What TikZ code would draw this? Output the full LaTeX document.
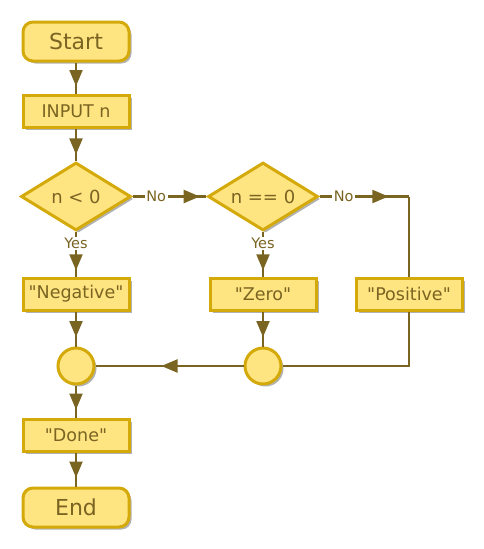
\documentclass[tikz,border=0pt]{standalone}
\usepackage{fontspec}
\setmainfont{DejaVu Sans}[Ligatures=TeXOff]
\usetikzlibrary{shapes.geometric,shadows,decorations.markings}
\definecolor{boxfill}{HTML}{FFE482}
\definecolor{boxline}{HTML}{D4A90A}
\definecolor{ink}{HTML}{7A6422}
\tikzset{
  base/.style={draw=boxline, fill=boxfill, line width=3pt, text=ink,
    drop shadow={shadow xshift=2.5pt, shadow yshift=-2.5pt, opacity=0.3, fill=black}},
  term/.style={base, rounded corners=10pt, minimum width=106pt, minimum height=39pt, inner sep=0pt, font=\fontsize{22}{25}\selectfont},
  proc/.style={base, minimum width=106pt, minimum height=32pt, inner sep=0pt, font=\fontsize{17.5}{20}\selectfont},
  decide/.style={base, diamond, aspect=1.6, minimum width=110pt, minimum height=68pt, inner sep=0pt, font=\fontsize{18}{20}\selectfont},
  joint/.style={base, circle, minimum size=36pt, inner sep=0pt},
  flow/.style={draw=ink, line width=2.8pt},
  arrowat/.style={postaction={decorate, decoration={markings,
    mark=at position #1 with {\fill[ink] (8pt,0) -- (-8pt,6.8pt) -- (-8pt,-6.8pt) -- cycle;}}}},
  lbl/.style={fill=white, text=ink, inner sep=1.5pt, font=\fontsize{14.5}{16}\selectfont}
}
\begin{document}
\begin{tikzpicture}[x=1pt,y=-1pt]
\useasboundingbox (0,0) rectangle (484,549);
\node[term] (start) at (76,41.5) {Start};
\node[proc] (input) at (76,111) {INPUT n};
\node[decide] (d1) at (76,196.5) {n < 0};
\node[proc] (neg) at (76,294) {"Negative"};
\node[joint] (c1) at (76,366) {};
\node[proc] (done) at (76,435) {"Done"};
\node[term] (end) at (76,507.5) {End};
\node[decide] (d2) at (263,196.5) {n == 0};
\node[proc] (zero) at (263,294) {"Zero"};
\node[proc] (pos) at (409,294) {"Positive"};
\node[joint] (c2) at (263,366) {};
\coordinate (corner1) at (409,196.5);
\coordinate (corner2) at (409,366);

\draw[flow, arrowat=0.5] (start) -- (input);
\draw[flow, arrowat=0.55] (input) -- (d1);
\draw[flow, arrowat=0.68] (d1) -- node[lbl, pos=0.26] {Yes} (neg);
\draw[flow, arrowat=0.8] (d1) -- node[lbl, pos=0.32] {No} (d2);
\draw[flow, arrowat=0.68] (d2) -- node[lbl, pos=0.26] {Yes} (zero);
\draw[flow, arrowat=0.68] (d2) -- node[lbl, pos=0.27] {No} (corner1);
\draw[flow] (corner1) -- (pos);
\draw[flow] (pos) -- (corner2) -- (c2);
\draw[flow, arrowat=0.5] (c2) -- (c1);
\draw[flow, arrowat=0.5] (neg) -- (c1);
\draw[flow, arrowat=0.5] (zero) -- (c2);
\draw[flow, arrowat=0.5] (c1) -- (done);
\draw[flow, arrowat=0.5] (done) -- (end);
\end{tikzpicture}
\end{document}
